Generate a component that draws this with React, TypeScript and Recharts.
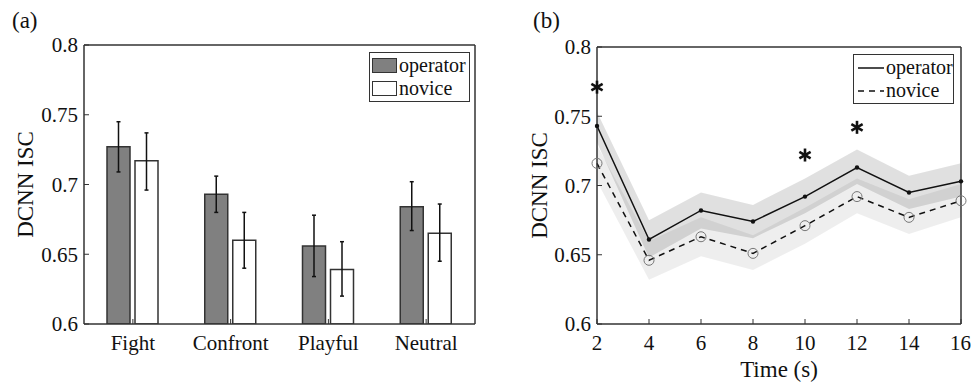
import React from 'react';
import {
  Area,
  Bar,
  BarChart,
  ComposedChart,
  ErrorBar,
  Legend,
  Line,
  Scatter,
  XAxis,
  YAxis,
} from 'recharts';

// (a) mean DCNN ISC per category
const categories = ['Fight', 'Confront', 'Playful', 'Neutral'];
const operatorMean = [0.727, 0.693, 0.656, 0.684];
const operatorLow = [0.709, 0.68, 0.634, 0.667];
const operatorHigh = [0.745, 0.706, 0.678, 0.702];
const noviceMean = [0.717, 0.66, 0.639, 0.665];
const noviceLow = [0.696, 0.64, 0.62, 0.645];
const noviceHigh = [0.737, 0.68, 0.659, 0.686];
const iscTicks = [0.6, 0.65, 0.7, 0.75, 0.8];

// (b) ISC over time
const times = [2, 4, 6, 8, 10, 12, 14, 16];
const operatorIsc = [0.743, 0.661, 0.682, 0.674, 0.692, 0.713, 0.695, 0.703];
const operatorBandLow = [0.731, 0.648, 0.669, 0.662, 0.68, 0.701, 0.683, 0.692];
const operatorBandHigh = [0.753, 0.675, 0.695, 0.686, 0.705, 0.726, 0.707, 0.716];
const noviceIsc = [0.716, 0.646, 0.663, 0.651, 0.671, 0.692, 0.677, 0.689];
const noviceBandLow = [0.703, 0.632, 0.649, 0.639, 0.658, 0.68, 0.665, 0.677];
const noviceBandHigh = [0.729, 0.66, 0.677, 0.664, 0.684, 0.705, 0.69, 0.701];
const sigTimes = [2, 10, 12];
const sigLevels = [0.771, 0.722, 0.742];

const FONT = '"Liberation Serif", "Times New Roman", serif';
const INK = '#111';
const FRAME = '#333';

const barData = categories.map((name, i) => ({
  name,
  operator: operatorMean[i],
  novice: noviceMean[i],
  opErr: [operatorMean[i] - operatorLow[i], operatorHigh[i] - operatorMean[i]],
  novErr: [noviceMean[i] - noviceLow[i], noviceHigh[i] - noviceMean[i]],
}));

const timeData = times.map((t, i) => ({
  t,
  operator: operatorIsc[i],
  novice: noviceIsc[i],
  opBand: [operatorBandLow[i], operatorBandHigh[i]],
  novBand: [noviceBandLow[i], noviceBandHigh[i]],
}));

const starData = sigTimes.map((t, i) => ({ t, y: sigLevels[i] }));

const tickFont = { fill: INK, fontSize: 21, fontFamily: FONT };
const frameLine = { stroke: FRAME, strokeWidth: 1.5 };
const tickLine = { stroke: FRAME, strokeWidth: 1 };

function yLabel(baseX: number) {
  return (props: any) => {
    const vb = props.viewBox || { y: 47, height: 277 };
    const cy = vb.y + vb.height / 2;
    return (
      <text
        x={baseX}
        y={cy}
        transform={`rotate(-90, ${baseX}, ${cy})`}
        textAnchor="middle"
        fontFamily={FONT}
        fontSize={23}
        fill={INK}
      >
        DCNN ISC
      </text>
    );
  };
}

function timeLabel(props: any) {
  const vb = props.viewBox || { x: 116, y: 324, width: 364 };
  return (
    <text
      x={vb.x + vb.width / 2}
      y={vb.y + 53}
      textAnchor="middle"
      fontFamily={FONT}
      fontSize={23}
      fill={INK}
    >
      Time (s)
    </text>
  );
}

function OperatorDot(props: any) {
  const { cx, cy } = props;
  if (cx == null || cy == null) return <g />;
  return <circle cx={cx} cy={cy} r={2.2} fill={INK} />;
}

function NoviceDot(props: any) {
  const { cx, cy } = props;
  if (cx == null || cy == null) return <g />;
  return <circle cx={cx} cy={cy} r={5} fill="none" stroke="#777" strokeWidth={1} />;
}

function Star(props: any) {
  const { cx, cy } = props;
  const r = 6.5;
  return (
    <g>
      {[90, 30, -30].map((a) => {
        const rad = (a * Math.PI) / 180;
        const dx = Math.cos(rad) * r;
        const dy = Math.sin(rad) * r;
        return (
          <line
            key={a}
            x1={cx - dx}
            y1={cy - dy}
            x2={cx + dx}
            y2={cy + dy}
            stroke={INK}
            strokeWidth={2.6}
          />
        );
      })}
    </g>
  );
}

const legendBox: React.CSSProperties = {
  border: `1.5px solid ${FRAME}`,
  background: '#fff',
  width: 97,
  padding: '1px 0 1px 2px',
  fontFamily: FONT,
  fontSize: 20,
  color: INK,
};

function BarLegend() {
  const rows = [
    ['operator', '#808080'],
    ['novice', '#fff'],
  ];
  return (
    <div style={legendBox}>
      {rows.map(([label, fill]) => (
        <div key={label} style={{ display: 'flex', alignItems: 'center', height: 23 }}>
          <span
            style={{
              display: 'inline-block',
              width: 23,
              height: 13,
              background: fill,
              border: `1.5px solid ${FRAME}`,
              marginRight: 2,
            }}
          />
          {label}
        </div>
      ))}
    </div>
  );
}

function LineLegend() {
  const rows = [
    ['operator', undefined],
    ['novice', '6 5'],
  ];
  return (
    <div style={legendBox}>
      {rows.map(([label, dash]) => (
        <div key={label} style={{ display: 'flex', alignItems: 'center', height: 23 }}>
          <svg width={28} height={10} style={{ marginLeft: 2 }}>
            <line x1={0} y1={5} x2={26} y2={5} stroke={INK} strokeWidth={1.5} strokeDasharray={dash} />
          </svg>
          {label}
        </div>
      ))}
    </div>
  );
}

const panelTag: React.CSSProperties = {
  position: 'absolute',
  top: 9,
  fontFamily: FONT,
  fontSize: 23,
  lineHeight: '23px',
  color: INK,
};

export default function App() {
  return (
    <div style={{ position: 'absolute', left: 0, top: 0, width: 971, height: 385, background: '#fff' }}>
      <div style={{ ...panelTag, left: 12 }}>(a)</div>
      <div style={{ ...panelTag, left: 533 }}>(b)</div>

      <div style={{ position: 'absolute', left: 0, top: 0 }}>
        <BarChart
          width={480}
          height={385}
          data={barData}
          margin={{ top: 44, right: 4, bottom: 31, left: 0 }}
          barSize={23}
          barGap={5}
        >
          <XAxis
            dataKey="name"
            interval={0}
            height={30}
            tickSize={-5}
            tickMargin={16}
            tick={tickFont}
            axisLine={frameLine}
            tickLine={tickLine}
          />
          <XAxis
            xAxisId="top"
            orientation="top"
            dataKey="name"
            interval={0}
            height={1}
            tickSize={-5}
            tick={false}
            axisLine={frameLine}
            tickLine={tickLine}
          />
          <YAxis
            type="number"
            domain={[0.6, 0.8]}
            ticks={iscTicks}
            allowDataOverflow
            width={84}
            tickSize={-5}
            tickMargin={11}
            tick={tickFont}
            axisLine={frameLine}
            tickLine={tickLine}
            label={yLabel(33)}
          />
          <YAxis
            yAxisId="right"
            orientation="right"
            type="number"
            domain={[0.6, 0.8]}
            ticks={iscTicks}
            width={1}
            tickSize={-5}
            tick={false}
            axisLine={frameLine}
            tickLine={tickLine}
          />
          <Legend
            layout="vertical"
            align="center"
            verticalAlign="middle"
            wrapperStyle={{ left: 369, top: 52, width: 'auto' }}
            content={() => <BarLegend />}
          />
          <Bar dataKey="operator" fill="#808080" stroke={FRAME} strokeWidth={1.5} isAnimationActive={false}>
            <ErrorBar dataKey="opErr" direction="y" width={2} stroke={INK} strokeWidth={1.5} />
          </Bar>
          <Bar dataKey="novice" fill="#fff" stroke={FRAME} strokeWidth={1.5} isAnimationActive={false}>
            <ErrorBar dataKey="novErr" direction="y" width={2} stroke={INK} strokeWidth={1.5} />
          </Bar>
        </BarChart>
      </div>

      <div style={{ position: 'absolute', left: 481, top: 0 }}>
        <ComposedChart
          width={490}
          height={385}
          data={timeData}
          margin={{ top: 46, right: 9, bottom: 31, left: 0 }}
        >
          <XAxis
            dataKey="t"
            type="number"
            domain={[2, 16]}
            ticks={times}
            height={30}
            tickSize={-5}
            tickMargin={16}
            tick={tickFont}
            axisLine={frameLine}
            tickLine={tickLine}
            label={timeLabel}
          />
          <XAxis
            xAxisId="top"
            orientation="top"
            dataKey="t"
            type="number"
            domain={[2, 16]}
            ticks={times}
            height={1}
            tickSize={-5}
            tick={false}
            axisLine={frameLine}
            tickLine={tickLine}
          />
          <YAxis
            type="number"
            domain={[0.6, 0.8]}
            ticks={iscTicks}
            allowDataOverflow
            width={116}
            tickSize={-5}
            tickMargin={11}
            tick={tickFont}
            axisLine={frameLine}
            tickLine={tickLine}
            label={yLabel(66)}
          />
          <YAxis
            yAxisId="right"
            orientation="right"
            type="number"
            domain={[0.6, 0.8]}
            ticks={iscTicks}
            width={1}
            tickSize={-5}
            tick={false}
            axisLine={frameLine}
            tickLine={tickLine}
          />
          <Legend
            layout="vertical"
            align="center"
            verticalAlign="middle"
            wrapperStyle={{ left: 372, top: 54, width: 'auto' }}
            content={() => <LineLegend />}
          />
          <Area
            type="linear"
            dataKey="novBand"
            fill="#000"
            fillOpacity={0.065}
            stroke="none"
            isAnimationActive={false}
            legendType="none"
          />
          <Area
            type="linear"
            dataKey="opBand"
            fill="#000"
            fillOpacity={0.12}
            stroke="none"
            isAnimationActive={false}
            legendType="none"
          />
          <Line
            type="linear"
            dataKey="operator"
            stroke={INK}
            strokeWidth={1.5}
            dot={OperatorDot}
            activeDot={false}
            isAnimationActive={false}
          />
          <Line
            type="linear"
            dataKey="novice"
            stroke={INK}
            strokeWidth={1.5}
            strokeDasharray="6 5"
            dot={NoviceDot}
            activeDot={false}
            isAnimationActive={false}
          />
          <Scatter data={starData} dataKey="y" shape={Star} isAnimationActive={false} legendType="none" />
        </ComposedChart>
      </div>
    </div>
  );
}
